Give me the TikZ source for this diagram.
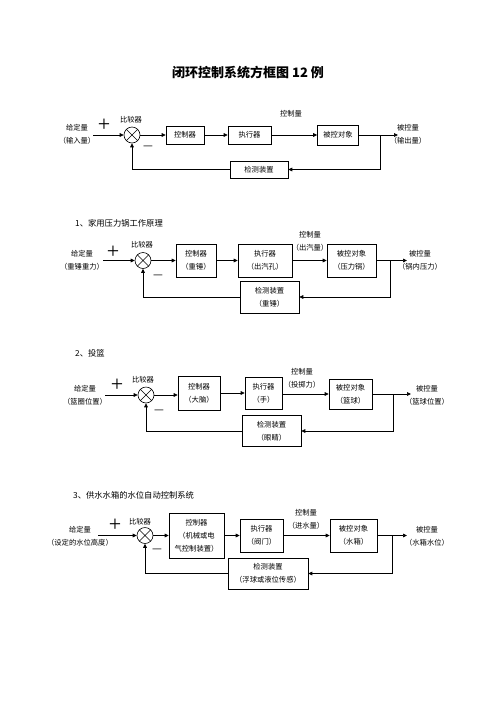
\documentclass[tikz,border=0pt]{standalone}
\usepackage{fontspec}
\setmainfont{Noto Sans CJK SC}
\newfontfamily\plusfont{Liberation Serif}
\usetikzlibrary{arrows.meta}
\newcommand{\lblfont}{\fontsize{7.3}{13}\selectfont}
\begin{document}
\begin{tikzpicture}[x=1pt,y=-1pt,
  box/.style={draw, line width=0.6pt, inner sep=0pt, align=center, font=\lblfont},
  txt/.style={inner sep=0pt, align=center, font=\lblfont},
  head/.style={inner sep=0pt, anchor=west, font=\fontsize{8.3}{10}\selectfont},
  conn/.style={line width=0.7pt, -{Triangle[length=4pt,width=3.6pt]}},
  sumc/.style={draw, circle, minimum size=16pt, inner sep=0pt, line width=0.6pt},
  plus/.style={inner sep=0pt, font=\fontsize{22}{22}\selectfont\plusfont},
  minus/.style={inner sep=0pt, font=\fontsize{11}{11}\selectfont}]
\path[fill=white] (0,0) rectangle (496,702);
\useasboundingbox (0,0) rectangle (496,702);

\node[inner sep=0pt, font=\fontsize{13}{15}\selectfont\bfseries] (title) at (248,73) {闭环控制系统方框图 12 例};

% ---------- diagram 0 ----------
\node[sumc] (s0) at (132,135) {};
\draw[line width=0.5pt] (s0.north west) -- (s0.south east) (s0.north east) -- (s0.south west);
\node[box, minimum width=38pt, minimum height=18pt] (c0) at (185,135) {控制器};
\node[box, minimum width=43pt, minimum height=18pt] (a0) at (249.5,135) {执行器};
\node[box, minimum width=41pt, minimum height=20pt] (p0) at (338,135) {被控对象};
\node[box, minimum width=58pt, minimum height=17pt] (d0) at (259,169.5) {检测装置};
\node[txt] (g0) at (77,134) {给定量\\（输入量）};
\node[txt] (o0) at (408,134) {被控量\\（输出量）};
\node[txt] (cm0) at (291,114) {控制量};
\node[txt] (cmp0) at (131,120) {比较器};
\node[plus] (pl0) at (104,125) {+};
\node[minus] (mi0) at (148,148) {—};
\coordinate (in0) at (93,135);
\coordinate (b0) at (380,135);
\coordinate (out0) at (398,135);
\draw[conn] (in0) -- (s0);
\draw[conn] (s0) -- (c0);
\draw[conn] (c0) -- (a0);
\draw[conn] (a0) -- (p0);
\draw[conn] (p0) -- (out0);
\draw[conn] (b0) |- (d0);
\draw[conn] (d0.west) -| (s0.south);

% ---------- diagram 1 ----------
\node[head] (h1) at (75,223) {1、家用压力锅工作原理};
\node[sumc] (s1) at (143,260.5) {};
\draw[line width=0.5pt] (s1.north west) -- (s1.south east) (s1.north east) -- (s1.south west);
\node[box, minimum width=40pt, minimum height=33pt] (c1) at (196,260.5) {控制器\\（重锤）};
\node[box, minimum width=54pt, minimum height=33pt] (a1) at (265,260.5) {执行器\\（出汽孔）};
\node[box, minimum width=49pt, minimum height=33pt] (p1) at (351.5,260.5) {被控对象\\（压力锅）};
\node[box, minimum width=59pt, minimum height=32pt] (d1) at (269.5,297) {检测装置\\（重锤）};
\node[txt] (g1) at (82,260) {给定量\\（重锤重力）};
\node[txt] (o1) at (420,260) {被控量\\（锅内压力）};
\node[txt] (cm1) at (310,241) {控制量\\（出汽量）};
\node[txt] (cmp1) at (142,245) {比较器};
\node[plus] (pl1) at (113,252) {+};
\node[minus] (mi1) at (158,277) {—};
\coordinate (in1) at (103,260.5);
\coordinate (b1) at (390,260.5);
\coordinate (out1) at (407,260.5);
\draw[conn] (in1) -- (s1);
\draw[conn] (s1) -- (c1);
\draw[conn] (c1) -- (a1);
\draw[conn] (a1) -- (p1);
\draw[conn] (p1) -- (out1);
\draw[conn] (b1) |- (d1);
\draw[conn] (d1.west) -| (s1.south);

% ---------- diagram 2 ----------
\node[head] (h2) at (75,353) {2、投篮};
\node[sumc] (s2) at (146,395) {};
\draw[line width=0.5pt] (s2.north west) -- (s2.south east) (s2.north east) -- (s2.south west);
\node[box, minimum width=42pt, minimum height=34pt] (c2) at (199,393) {控制器\\（大脑）};
\node[box, minimum width=37pt, minimum height=32pt] (a2) at (263.5,393) {执行器\\（手）};
\node[box, minimum width=43pt, minimum height=30pt] (p2) at (350.5,394) {被控对象\\（篮球）};
\node[box, minimum width=59pt, minimum height=31pt] (d2) at (271.5,431) {检测装置\\（眼睛）};
\node[txt] (g2) at (85,395) {给定量\\（篮圈位置）};
\node[txt] (o2) at (427,395) {被控量\\（篮球位置）};
\node[txt] (cm2) at (302,378) {控制量\\（投掷力）};
\node[txt] (cmp2) at (143,380) {比较器};
\node[plus] (pl2) at (117,385) {+};
\node[minus] (mi2) at (159,412) {—};
\coordinate (in2) at (105,395);
\coordinate (b2) at (393,394);
\coordinate (out2) at (411,394);
\draw[conn] (in2) -- (s2);
\draw[conn] (s2) -- (s2 -| c2.west);
\draw[conn] (c2.east |- a2) -- (a2);
\draw[conn] (a2.east |- p2) -- (p2);
\draw[conn] (p2) -- (out2);
\draw[conn] (b2) |- (d2);
\draw[conn] (d2.west) -| (s2.south);

% ---------- diagram 3 ----------
\node[head] (h3) at (73,495) {3、供水水箱的水位自动控制系统};
\node[sumc] (s3) at (145,535.5) {};
\draw[line width=0.5pt] (s3.north west) -- (s3.south east) (s3.north east) -- (s3.south west);
\node[box, minimum width=55pt, minimum height=45pt] (c3) at (196.5,535.5) {控制器\\（机械或电\\气控制装置）};
\node[box, minimum width=43pt, minimum height=33pt] (a3) at (261.5,535.5) {执行器\\（阀门）};
\node[box, minimum width=47pt, minimum height=33pt] (p3) at (353.5,535.5) {被控对象\\（水箱）};
\node[box, minimum width=80pt, minimum height=31pt] (d3) at (268,573.5) {检测装置\\（浮球或液位传感）};
\node[txt] (g3) at (80,536) {给定量\\（设定的水位高度）};
\node[txt] (o3) at (427,536) {被控量\\（水箱水位）};
\node[txt] (cm3) at (306,519.5) {控制量\\（进水量）};
\node[txt] (cmp3) at (140,522) {比较器};
\node[plus] (pl3) at (115,525) {+};
\node[minus] (mi3) at (157,551) {—};
\coordinate (in3) at (98,535.5);
\coordinate (b3) at (392,535.5);
\coordinate (out3) at (407,535.5);
\draw[conn] (in3) -- (s3);
\draw[conn] (s3) -- (c3);
\draw[conn] (c3) -- (a3);
\draw[conn] (a3) -- (p3);
\draw[conn] (p3) -- (out3);
\draw[conn] (b3) |- (d3);
\draw[conn] (d3.west) -| (s3.south);
\end{tikzpicture}
\end{document}
